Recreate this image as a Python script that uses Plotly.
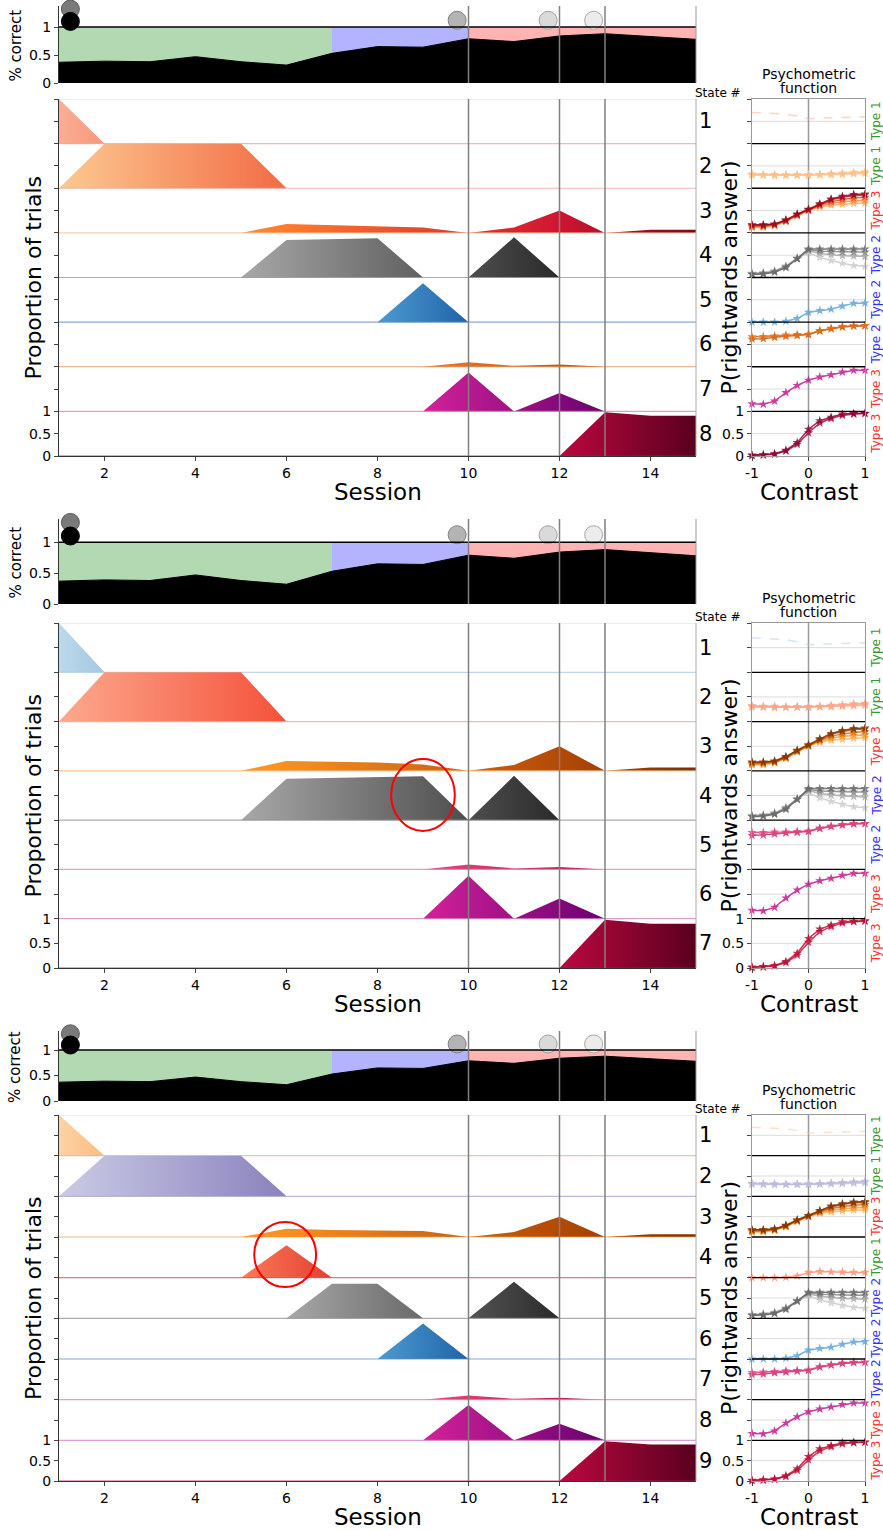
import plotly.graph_objects as go

W, H = 883, 1530
FONT = "DejaVu Sans"

# ---------------- data ----------------
sessions = list(range(1, 16))
session_ticks = [2, 4, 6, 8, 10, 12, 14]
perf = [0.37, 0.39, 0.38, 0.47, 0.38, 0.32, 0.53, 0.65, 0.64, 0.79, 0.74, 0.84, 0.88, 0.83, 0.78]
phase_edges = [1, 7, 10, 15]
phase_colors = ["#b3d9b3", "#b3b3ff", "#ffb3b3"]
event_sessions = [10, 12, 13]
dot_x = [1.25, 1.25, 9.75, 11.75, 12.75]
dot_y = [1.32, 1.10, 1.12, 1.12, 1.12]
dot_fill = ["#7a7a7a", "#000000", "#b4b4b4", "#dadada", "#ececec"]
dot_edge = ["#5a5a5a", "#000000", "#808080", "#a0a0a0", "#a8a8a8"]

b1_states = [
    [1, 0, 0, 0, 0, 0, 0, 0, 0, 0, 0, 0, 0, 0, 0],
    [0, 1, 1, 1, 1, 0, 0, 0, 0, 0, 0, 0, 0, 0, 0],
    [0, 0, 0, 0, 0, 0.2, 0.17, 0.15, 0.12, 0, 0.12, 0.5, 0, 0.07, 0.07],
    [0, 0, 0, 0, 0, 0.84, 0.86, 0.88, 0, 0, 0.9, 0, 0, 0, 0],
    [0, 0, 0, 0, 0, 0, 0, 0, 0.87, 0, 0, 0, 0, 0, 0],
    [0, 0, 0, 0, 0, 0, 0, 0, 0, 0.1, 0.02, 0.05, 0, 0, 0],
    [0, 0, 0, 0, 0, 0, 0, 0, 0, 0.87, 0, 0.41, 0, 0, 0],
    [0, 0, 0, 0, 0, 0, 0, 0, 0, 0, 0, 0, 0.98, 0.9, 0.9],
]
b2_states = [
    [1, 0, 0, 0, 0, 0, 0, 0, 0, 0, 0, 0, 0, 0, 0],
    [0, 1, 1, 1, 1, 0, 0, 0, 0, 0, 0, 0, 0, 0, 0],
    [0, 0, 0, 0, 0, 0.2, 0.18, 0.17, 0.13, 0, 0.12, 0.5, 0, 0.07, 0.07],
    [0, 0, 0, 0, 0, 0.84, 0.86, 0.87, 0.89, 0, 0.9, 0, 0, 0, 0],
    [0, 0, 0, 0, 0, 0, 0, 0, 0, 0.1, 0.02, 0.05, 0, 0, 0],
    [0, 0, 0, 0, 0, 0, 0, 0, 0, 0.87, 0, 0.41, 0, 0, 0],
    [0, 0, 0, 0, 0, 0, 0, 0, 0, 0, 0, 0, 0.98, 0.9, 0.9],
]
b3_states = [
    [1, 0, 0, 0, 0, 0, 0, 0, 0, 0, 0, 0, 0, 0, 0],
    [0, 1, 1, 1, 1, 0, 0, 0, 0, 0, 0, 0, 0, 0, 0],
    [0, 0, 0, 0, 0, 0.2, 0.17, 0.16, 0.15, 0, 0.12, 0.5, 0, 0.07, 0.07],
    [0, 0, 0, 0, 0, 0.8, 0, 0, 0, 0, 0, 0, 0, 0, 0],
    [0, 0, 0, 0, 0, 0, 0.85, 0.85, 0, 0, 0.9, 0, 0, 0, 0],
    [0, 0, 0, 0, 0, 0, 0, 0, 0.87, 0, 0, 0, 0, 0, 0],
    [0, 0, 0, 0, 0, 0, 0, 0, 0, 0.1, 0.02, 0.05, 0, 0, 0],
    [0, 0, 0, 0, 0, 0, 0, 0, 0, 0.87, 0, 0.41, 0, 0, 0],
    [0, 0, 0, 0, 0, 0, 0, 0, 0, 0, 0, 0, 0.98, 0.9, 0.9],
]

contrast = [-1.0, -0.8, -0.6, -0.4, -0.2, 0.0, 0.2, 0.4, 0.6, 0.8, 1.0]
contrast_ticks = [-1, 0, 1]
psy_type1 = [0.70, 0.69, 0.68, 0.66, 0.62, 0.56, 0.57, 0.58, 0.59, 0.59, 0.60]
psy_flat = [
    [0.31, 0.30, 0.30, 0.29, 0.30, 0.29, 0.30, 0.31, 0.32, 0.34, 0.35],
    [0.29, 0.29, 0.28, 0.29, 0.29, 0.30, 0.30, 0.30, 0.31, 0.32, 0.33],
    [0.32, 0.31, 0.31, 0.30, 0.30, 0.30, 0.31, 0.33, 0.34, 0.36, 0.37],
]
psy_sig = [
    [0.12, 0.12, 0.16, 0.25, 0.38, 0.50, 0.58, 0.62, 0.64, 0.66, 0.67],
    [0.13, 0.14, 0.17, 0.26, 0.39, 0.51, 0.60, 0.66, 0.70, 0.72, 0.73],
    [0.15, 0.15, 0.18, 0.27, 0.40, 0.51, 0.62, 0.70, 0.75, 0.78, 0.80],
    [0.17, 0.17, 0.19, 0.28, 0.41, 0.52, 0.64, 0.74, 0.80, 0.84, 0.85],
    [0.18, 0.18, 0.20, 0.29, 0.42, 0.53, 0.65, 0.76, 0.82, 0.86, 0.87],
]
psy_gray = [
    [0.10, 0.11, 0.15, 0.26, 0.42, 0.56, 0.45, 0.38, 0.32, 0.27, 0.25],
    [0.09, 0.10, 0.14, 0.25, 0.43, 0.60, 0.54, 0.51, 0.49, 0.48, 0.47],
    [0.08, 0.09, 0.13, 0.24, 0.43, 0.62, 0.59, 0.58, 0.57, 0.57, 0.57],
    [0.07, 0.08, 0.12, 0.22, 0.42, 0.64, 0.64, 0.64, 0.64, 0.64, 0.64],
]
psy_blue = [0.0, 0.0, 0.0, 0.02, 0.08, 0.22, 0.26, 0.29, 0.36, 0.42, 0.43]
psy_bias = [
    [0.62, 0.63, 0.66, 0.68, 0.70, 0.72, 0.80, 0.85, 0.89, 0.91, 0.92],
    [0.67, 0.68, 0.69, 0.71, 0.72, 0.73, 0.81, 0.86, 0.90, 0.92, 0.92],
]
psy_bias_b = [
    [0.69, 0.70, 0.72, 0.74, 0.75, 0.77, 0.83, 0.87, 0.90, 0.92, 0.93],
    [0.75, 0.75, 0.76, 0.76, 0.77, 0.78, 0.84, 0.88, 0.91, 0.93, 0.93],
]
psy_mag = [0.17, 0.16, 0.23, 0.42, 0.58, 0.70, 0.77, 0.82, 0.88, 0.92, 0.92]
psy_steep = [
    [0.01, 0.02, 0.04, 0.11, 0.26, 0.52, 0.74, 0.84, 0.91, 0.94, 0.95],
    [0.02, 0.03, 0.05, 0.13, 0.30, 0.60, 0.79, 0.87, 0.94, 0.95, 0.96],
]
psy_salmon = [0.0, 0.0, 0.0, 0.01, 0.04, 0.13, 0.15, 0.14, 0.14, 0.13, 0.13]

b1_types = ["Type 1", "Type 1", "Type 3", "Type 2", "Type 2", "Type 2", "Type 3", "Type 3"]
b2_types = ["Type 1", "Type 1", "Type 3", "Type 2", "Type 2", "Type 3", "Type 3"]
b3_types = ["Type 1", "Type 1", "Type 3", "Type 1", "Type 2", "Type 2", "Type 2", "Type 3", "Type 3"]
type_colors = {"Type 1": "#339933", "Type 2": "#3333ff", "Type 3": "#ff3333"}

# ---------------- styles ----------------
gray_cs = [[0, "#a8a8a8"], [1, "#2a2a2a"]]
blue_cs = [[0, "#4d9bd1"], [1, "#1f63a8"]]
mag_cs = [[0, "#d4219a"], [1, "#680170"]]
crim_cs = [[0, "#bb083e"], [1, "#5a001f"]]
orbr_cs = [[0, "#fb9a2a"], [0.1, "#f68f22"], [0.7, "#b34a06"], [1, "#7a3204"]]
pink_cs = [[0, "#e5487e"], [1, "#c01048"]]
gray_psy = ["#cccccc", "#aaaaaa", "#888888", "#666666"]
orbr_psy = ["#fdb65a", "#f7982a", "#d86c10", "#a84a06", "#7f3304"]

blocks = [
    dict(top_px=(6, 83), low_px=(99, 456), states=b1_states, types=b1_types,
         fills=[[[0, "#fcae94"], [1, "#f4977a"]], [[0, "#fdc992"], [1, "#f26b44"]],
                [[0, "#fd8c3c"], [0.1, "#fd7a2c"], [0.7, "#cf1530"], [1, "#780a1e"]],
                gray_cs, blue_cs, [[0, "#f07a2a"], [1, "#c04a00"]], mag_cs, crim_cs],
         lines=["#f0a090", "#eaa096", "#f0c098", "#909090", "#5a90c8", "#e08040", "#d080c0", "#a02050"],
         psy=[([psy_type1], ["#f7b49c"], "dash"),
              (psy_flat, ["#fdd2a0", "#fdc892", "#fcbf88"], "star"),
              (psy_sig, ["#fdae61", "#fb8c3c", "#ea5028", "#c81a2a", "#8c0a1e"], "star"),
              (psy_gray, gray_psy, "star"),
              ([psy_blue], ["#5ea6d6"], "star"),
              (psy_bias, ["#d2560a", "#e36a14"], "star"),
              ([psy_mag], ["#c4198c"], "star"),
              (psy_steep, ["#ac0c3e", "#8a0430"], "star")],
         circle=None),
    dict(top_px=(519, 604), low_px=(623, 968), states=b2_states, types=b2_types,
         fills=[[[0, "#bcd8ec"], [1, "#a4c8e2"]], [[0, "#fca98e"], [1, "#f5513a"]],
                orbr_cs, gray_cs, pink_cs, mag_cs, crim_cs],
         lines=["#a8c8e0", "#f0a090", "#f0b070", "#909090", "#e080a8", "#d080c0", "#a02050"],
         psy=[([psy_type1], ["#b4d2ea"], "dash"),
              (psy_flat, ["#fcbaa2", "#fcae94", "#fba388"], "star"),
              (psy_sig, orbr_psy, "star"),
              (psy_gray, gray_psy, "star"),
              (psy_bias_b, ["#d0306c", "#e0407e"], "star"),
              ([psy_mag], ["#c4198c"], "star"),
              (psy_steep, ["#d0143a", "#b80c34"], "star")],
         circle=(8.3, 9.7, 2.78, 4.24)),
    dict(top_px=(1031, 1101), low_px=(1115, 1481), states=b3_states, types=b3_types,
         fills=[[[0, "#fdd3a6"], [1, "#fdbb80"]], [[0, "#cbcbe5"], [1, "#8a82bd"]],
                orbr_cs, [[0, "#fc7a58"], [1, "#e34030"]], gray_cs, blue_cs, pink_cs, mag_cs, crim_cs],
         lines=["#e0b0a0", "#a8a0cc", "#f0a050", "#d05050", "#909090", "#5a90c8", "#e080a8", "#d080c0", "#a02050"],
         psy=[([psy_type1], ["#fdcc9c"], "dash"),
              (psy_flat, ["#d2d2ea", "#c6c6e2", "#babadc"], "star"),
              (psy_sig, orbr_psy, "star"),
              ([psy_salmon], ["#fc9070"], "star"),
              (psy_gray, gray_psy, "star"),
              ([psy_blue], ["#5ea6d6"], "star"),
              (psy_bias, ["#d0306c", "#e0407e"], "star"),
              ([psy_mag], ["#c4198c"], "star"),
              (psy_steep, ["#d0143a", "#b80c34"], "star")],
         circle=(5.29, 6.65, 4.77, 6.37)),
]

X0, X1 = 59, 696      # session axis pixels
PX0, PX1 = 752, 865   # contrast axis pixels


def rgba(h, a):
    h = h.lstrip("#")
    return "rgba(%d,%d,%d,%s)" % (int(h[0:2], 16), int(h[2:4], 16), int(h[4:6], 16), a)


def ref(p, i):
    return p if i == 1 else p + str(i)


def fx(x):
    return x / W


def fy(y):
    return 1 - y / H


fig = go.Figure()
shapes, annots, layout = [], [], {}
tfont = dict(family=FONT, size=14, color="black")


def txt(x, y, s, size, angle=0, color="black"):
    annots.append(dict(x=fx(x), y=fy(y), xref="paper", yref="paper", text=s, showarrow=False,
                       textangle=angle, xanchor="center", yanchor="middle",
                       font=dict(family=FONT, size=size, color=color)))


for bi, blk in enumerate(blocks):
    t0, t1 = blk["top_px"]
    l0, l1 = blk["low_px"]
    states = blk["states"]
    N = len(states)
    rowh = (l1 - l0) / N
    ia, ib, ic = 3 * bi + 1, 3 * bi + 2, 3 * bi + 3

    # ---------- top panel: % correct ----------
    xa, ya = ref("x", ia), ref("y", ia)
    layout[ref("xaxis", ia)] = dict(domain=[fx(X0), fx(X1)], range=[1, 15], anchor=ya,
                                    showticklabels=False, ticks="", showgrid=False, zeroline=False,
                                    automargin=False)
    layout[ref("yaxis", ia)] = dict(domain=[fy(t1), fy(t0)], range=[0, 1.375], anchor=xa,
                                    tickvals=[0, 0.5, 1], ticktext=["0", "0.5", "1"], ticks="outside",
                                    ticklen=4, showline=True, linecolor="#333", linewidth=1,
                                    showgrid=False, zeroline=False, tickfont=tfont, automargin=False)
    for k in range(len(phase_colors)):
        a, b = phase_edges[k], phase_edges[k + 1]
        segx = sessions[a - 1:b]
        segy = perf[a - 1:b]
        fig.add_trace(go.Scatter(x=segx + segx[::-1], y=segy + [1] * len(segx), fill="toself",
                                 fillcolor=phase_colors[k], mode="lines", line=dict(width=0),
                                 xaxis=xa, yaxis=ya, hoverinfo="skip"))
    fig.add_trace(go.Scatter(x=sessions, y=perf, fill="tozeroy", fillcolor="black", mode="lines",
                             line=dict(color="black", width=1), xaxis=xa, yaxis=ya))
    shapes.append(dict(type="line", xref=xa + " domain", yref=ya, x0=0, x1=1, y0=1, y1=1,
                       line=dict(color="black", width=1.5)))
    for s in event_sessions:
        shapes.append(dict(type="line", xref=xa, yref=ya + " domain", x0=s, x1=s, y0=0, y1=1,
                           line=dict(color="#808080", width=1.5)))
    shapes.append(dict(type="line", xref=xa + " domain", yref=ya + " domain", x0=1, x1=1, y0=0, y1=1,
                       line=dict(color="#999", width=1)))
    fig.add_trace(go.Scatter(x=dot_x, y=dot_y, mode="markers", cliponaxis=False,
                             marker=dict(size=18, color=dot_fill, line=dict(color=dot_edge, width=1)),
                             xaxis=xa, yaxis=ya))

    # ---------- lower panel: state proportions ----------
    xb, yb = ref("x", ib), ref("y", ib)
    yt = [k * 0.5 for k in range(2 * N + 1)]
    ytt = ["0", "0.5", "1"] + [""] * (len(yt) - 3)
    layout[ref("xaxis", ib)] = dict(domain=[fx(X0), fx(X1)], range=[1, 15], anchor=yb,
                                    tickvals=session_ticks, ticks="outside", ticklen=4,
                                    showline=True, linecolor="#333", linewidth=1,
                                    showgrid=False, zeroline=False, tickfont=tfont, automargin=False)
    layout[ref("yaxis", ib)] = dict(domain=[fy(l1), fy(l0)], range=[0, N], anchor=xb,
                                    tickvals=yt, ticktext=ytt, ticks="outside", ticklen=4,
                                    showline=True, linecolor="#333", linewidth=1,
                                    showgrid=False, zeroline=False, tickfont=tfont, automargin=False)
    for i, vals in enumerate(states):
        off = N - 1 - i
        nz = [s for s, v in zip(sessions, vals) if v > 0]
        g0, g1 = max(1, nz[0] - 1), min(15, nz[-1] + 1)
        fig.add_trace(go.Scatter(x=sessions, y=[off] * len(sessions), mode="lines",
                                 line=dict(color=rgba(blk["lines"][i], 0.75), width=1.2),
                                 xaxis=xb, yaxis=yb, hoverinfo="skip"))
        fig.add_trace(go.Scatter(x=sessions, y=[off + v for v in vals], mode="lines",
                                 line=dict(width=0), fill="tonexty",
                                 fillgradient=dict(type="horizontal", colorscale=blk["fills"][i],
                                                   start=g0, stop=g1),
                                 xaxis=xb, yaxis=yb, hoverinfo="skip"))
        txt(705, l0 + (i + 0.5) * rowh, str(i + 1), 21)
    shapes.append(dict(type="line", xref=xb + " domain", yref=yb, x0=0, x1=1, y0=N, y1=N,
                       line=dict(color="#dddddd", width=1)))
    shapes.append(dict(type="line", xref=xb + " domain", yref=yb + " domain", x0=1, x1=1, y0=0, y1=1,
                       line=dict(color="#aaaaaa", width=1)))
    for s in event_sessions:
        shapes.append(dict(type="line", xref=xb, yref=yb + " domain", x0=s, x1=s, y0=0, y1=1,
                           line=dict(color="#808080", width=1.5)))
    if blk["circle"]:
        cx0, cx1, cy0, cy1 = blk["circle"]
        shapes.append(dict(type="circle", xref=xb, yref=yb, x0=cx0, x1=cx1, y0=cy0, y1=cy1,
                           line=dict(color="red", width=2)))

    # ---------- psychometric panel ----------
    xc, yc = ref("x", ic), ref("y", ic)
    layout[ref("xaxis", ic)] = dict(domain=[fx(PX0), fx(PX1)], range=[-1, 1], anchor=yc,
                                    tickvals=contrast_ticks, ticktext=["-1", "0", "1"], ticks="outside",
                                    ticklen=4, showline=True, mirror=True, linecolor="#999", linewidth=1,
                                    showgrid=False, zeroline=False, tickfont=tfont, automargin=False)
    layout[ref("yaxis", ic)] = dict(domain=[fy(l1), fy(l0)], range=[0, N], anchor=xc,
                                    tickvals=yt, ticktext=ytt, ticks="outside", ticklen=4,
                                    showline=True, mirror=True, linecolor="#999", linewidth=1,
                                    showgrid=False, zeroline=False, tickfont=tfont, automargin=False)
    for r in range(N):
        off = N - 1 - r
        shapes.append(dict(type="line", xref=xc + " domain", yref=yc, x0=0, x1=1, y0=off + 0.5,
                           y1=off + 0.5, layer="below", line=dict(color="#dcdcdc", width=1)))
        if r > 0:
            shapes.append(dict(type="line", xref=xc + " domain", yref=yc, x0=0, x1=1, y0=off + 1,
                               y1=off + 1, line=dict(color="black", width=1.3)))
    shapes.append(dict(type="line", xref=xc, yref=yc + " domain", x0=0, x1=0, y0=0, y1=1,
                       layer="below", line=dict(color="#999", width=1.5)))
    for r, (curves, cols, style) in enumerate(blk["psy"]):
        off = N - 1 - r
        for cv, col in zip(curves, cols):
            if style == "dash":
                fig.add_trace(go.Scatter(x=contrast, y=[off + v for v in cv], mode="lines",
                                         line=dict(color=col, width=1.5, dash="dash"), opacity=0.55,
                                         xaxis=xc, yaxis=yc))
            else:
                fig.add_trace(go.Scatter(x=contrast, y=[off + v for v in cv], mode="lines+markers",
                                         line=dict(color=col, width=1.5),
                                         marker=dict(symbol="star", size=7, color=col),
                                         opacity=0.85, xaxis=xc, yaxis=yc, cliponaxis=False))
        tp = blk["types"][r]
        txt(876, l0 + (r + 0.5) * rowh, tp, 12, angle=-90, color=type_colors[tp])

    # ---------- texts ----------
    txt(15, (t0 + t1) / 2 + 1, "% correct", 15, angle=-90)
    txt(33, (l0 + l1) / 2, "Proportion of trials", 22, angle=-90)
    txt((X0 + X1) / 2, l1 + 36, "Session", 23)
    txt(729, (l0 + l1) / 2, "P(rightwards answer)", 22, angle=-90)
    txt((PX0 + PX1) / 2, l1 + 36, "Contrast", 23)
    txt((PX0 + PX1) / 2, l0 - 25, "Psychometric", 14)
    txt((PX0 + PX1) / 2, l0 - 11, "function", 14)
    txt(718, l0 - 6, "State #", 12)

fig.update_layout(width=W, height=H, margin=dict(l=0, r=0, t=0, b=0, autoexpand=False),
                  showlegend=False, paper_bgcolor="white", plot_bgcolor="rgba(0,0,0,0)",
                  font=dict(family=FONT, color="black"), shapes=shapes, annotations=annots, **layout)
fig.write_html("out.html")
